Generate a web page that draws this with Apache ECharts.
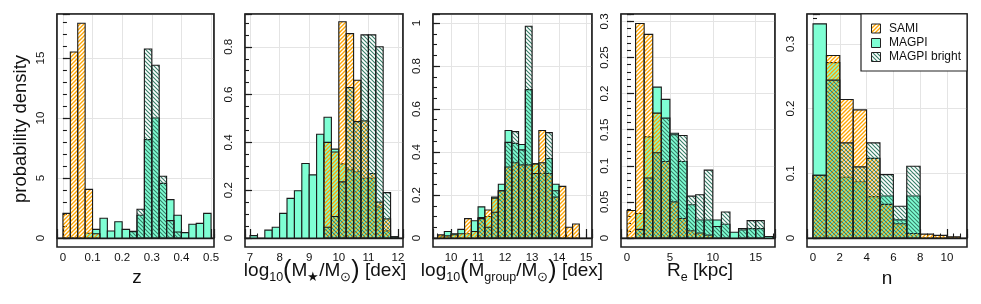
<!DOCTYPE html>
<html><head><meta charset="utf-8">
<script src="https://cdn.jsdelivr.net/npm/echarts@6/dist/echarts.min.js"></script>
<style>html,body{margin:0;padding:0;background:#fff}#c{width:981px;height:304px}</style>
</head><body><div id="c"></div>
<script>
// ---------------- DATA ----------------
// Panel 1: redshift z (bin width 0.025)
const zBinWidth = 0.025;
const zSamiLeft = [0, 0.025, 0.05, 0.075, 0.1];
const zSamiDensity = [2.05, 15.5, 17.9, 4.05, 0.35];
const zMagpiLeft = [0.075, 0.1, 0.125, 0.15, 0.175, 0.2, 0.225, 0.25, 0.275, 0.3, 0.325, 0.35, 0.375, 0.4, 0.425, 0.45, 0.475];
const zMagpiDensity = [0.4, 0.72, 1.64, 0.58, 1.36, 0.72, 0.53, 1.9, 8.2, 10.0, 4.55, 3.2, 1.9, 0.45, 1.15, 1.22, 2.05];
const zBrightLeft = [0.225, 0.25, 0.275, 0.3, 0.325, 0.35, 0.375];
const zBrightDensity = [0.55, 2.4, 15.75, 14.4, 5.15, 1.45, 0.5];
const zXTicks = [0, 0.1, 0.2, 0.3, 0.4, 0.5];
const zYTicks = [0, 5, 10, 15];

// Panel 2: log10 stellar mass (bin width 0.25)
const msBinWidth = 0.25;
const msSamiLeft = [9.5, 9.75, 10, 10.25, 10.5, 10.75, 11, 11.25, 11.5];
const msSamiDensity = [0.40, 0.36, 0.905, 0.855, 0.66, 0.49, 0.27, 0.15, 0.08];
const msMagpiLeft = [7, 7.5, 7.75, 8, 8.25, 8.5, 8.75, 9, 9.25, 9.5, 9.75, 10, 10.25, 10.5, 10.75, 11, 11.25, 11.5, 11.75];
const msMagpiDensity = [0.01, 0.033, 0.045, 0.103, 0.166, 0.198, 0.312, 0.264, 0.434, 0.505, 0.372, 0.31, 0.285, 0.277, 0.25, 0.25, 0.13, 0.03, 0.005];
const msBrightLeft = [9.5, 9.75, 10, 10.25, 10.5, 10.75, 11, 11.25, 11.5, 11.75];
const msBrightDensity = [0.045, 0.09, 0.235, 0.63, 0.487, 0.85, 0.85, 0.80, 0.19, 0.005];
const msXTicks = [7, 8, 9, 10, 11, 12];
const msYTicks = [0, 0.2, 0.4, 0.6, 0.8];

// Panel 3: log10 group mass (bin width 0.25)
const mgBinWidth = 0.25;
const mgSamiLeft = [9.5, 9.75, 10, 10.25, 10.5, 10.75, 11, 11.25, 11.5, 11.75, 12, 12.25, 12.5, 12.75, 13, 13.25, 13.5, 13.75, 14, 14.25, 14.5];
const mgSamiDensity = [0.015, 0.01, 0.015, 0.02, 0.09, 0.03, 0.095, 0.13, 0.185, 0.22, 0.33, 0.35, 0.34, 0.34, 0.345, 0.50, 0.30, 0.19, 0.24, 0.05, 0.065];
const mgMagpiLeft = [9.5, 9.75, 10, 10.25, 10.5, 10.75, 11, 11.25, 11.5, 11.75, 12, 12.25, 12.5, 12.75, 13, 13.25, 13.5, 13.75];
const mgMagpiDensity = [0.01, 0.03, 0.02, 0.04, 0.02, 0.08, 0.145, 0.10, 0.19, 0.25, 0.50, 0.44, 0.435, 0.69, 0.345, 0.30, 0.37, 0.25];
const mgBrightLeft = [11, 11.25, 11.5, 11.75, 12, 12.25, 12.5, 12.75, 13, 13.25, 13.5, 13.75];
const mgBrightDensity = [0.09, 0.05, 0.12, 0.22, 0.445, 0.495, 0.41, 0.985, 0.30, 0.35, 0.49, 0.22];
const mgXTicks = [10, 11, 12, 13, 14, 15];
const mgYTicks = [0, 0.2, 0.4, 0.6, 0.8, 1];

// Panel 4: effective radius Re [kpc] (bin width 1)
const reBinWidth = 1;
const reSamiLeft = [0, 1, 2, 3, 4, 5, 6, 7, 8, 9];
const reSamiDensity = [0.038, 0.297, 0.282, 0.173, 0.106, 0.05, 0.027, 0.01, 0.007, 0.004];
const reMagpiLeft = [1, 2, 3, 4, 5, 6, 7, 8, 9, 10, 11, 12, 13, 14, 15, 16];
const reMagpiDensity = [0.034, 0.14, 0.209, 0.192, 0.145, 0.106, 0.046, 0.025, 0.025, 0.025, 0.019, 0.008, 0.011, 0.013, 0.013, 0.002];
const reBrightLeft = [1, 2, 3, 4, 5, 6, 7, 8, 9, 10, 11, 13, 14, 15];
const reBrightDensity = [0.012, 0.083, 0.118, 0.166, 0.143, 0.142, 0.058, 0.06, 0.094, 0.016, 0.036, 0.013, 0.024, 0.024];
const reXTicks = [0, 5, 10, 15];
const reYTicks = [0, 0.05, 0.1, 0.15, 0.2, 0.25, 0.3];

// Panel 5: Sersic index n (bin width 1)
const nBinWidth = 1;
const nSamiLeft = [0, 1, 2, 3, 4, 5, 6, 7, 8, 9, 10];
const nSamiDensity = [0.097, 0.282, 0.214, 0.198, 0.123, 0.052, 0.022, 0.007, 0.006, 0.004, 0.002];
const nMagpiLeft = [0, 1, 2, 3, 4, 5, 6, 7];
const nMagpiDensity = [0.331, 0.271, 0.094, 0.087, 0.064, 0.065, 0.028, 0.065];
const nBrightLeft = [0, 1, 2, 3, 4, 5, 6, 7];
const nBrightDensity = [0.097, 0.244, 0.147, 0.11, 0.147, 0.098, 0.049, 0.111];
const nXTicks = [0, 2, 4, 6, 8, 10];
const nYTicks = [0, 0.1, 0.2, 0.3];

const legendNames = ['SAMI', 'MAGPI', 'MAGPI bright'];

// ---------------- STYLE / LAYOUT ----------------
const F = "'Liberation Sans', Arial, Helvetica, sans-serif";
const C_SAMI = '#FFA500', C_MAGPI = '#7FFFD4', C_BRIGHT = '#367F68', C_EDGE = '#1a1a1a', C_GRID = '#e4e4e4';
const TOP = 14, ZERO = 238, BOTTOM = 247;

function hatch(color, dir, lw) {
  const s = 4, c = document.createElement('canvas');
  c.width = s; c.height = s;
  const g = c.getContext('2d');
  g.strokeStyle = color; g.lineWidth = lw;
  g.beginPath();
  if (dir === '/') {
    g.moveTo(-1, s + 1); g.lineTo(s + 1, -1);
    g.moveTo(-1, 1); g.lineTo(1, -1);
    g.moveTo(s - 1, s + 1); g.lineTo(s + 1, s - 1);
  } else {
    g.moveTo(-1, -1); g.lineTo(s + 1, s + 1);
    g.moveTo(-1, s - 1); g.lineTo(1, s + 1);
    g.moveTo(s - 1, -1); g.lineTo(s + 1, 1);
  }
  g.stroke();
  return { image: c, repeat: 'repeat' };
}
const FILL_SAMI = hatch(C_SAMI, '/', 1.35);
const FILL_BRIGHT = hatch(C_BRIGHT, '\\', 1.1);

const panels = [
  { left: 57, right: 214, xr: [-0.02, 0.51], xMinor: 0.025, xTicks: zXTicks, yMax: 224 / 12, yMinor: 1, yTicks: zYTicks,
    w: zBinWidth, sets: [[zMagpiLeft, zMagpiDensity], [zSamiLeft, zSamiDensity], [zBrightLeft, zBrightDensity]] },
  { left: 245, right: 403, xr: [6.83, 12.17], xMinor: 0.25, xTicks: msXTicks, yMax: 224 / 239, yMinor: 0.05, yTicks: msYTicks,
    w: msBinWidth, sets: [[msMagpiLeft, msMagpiDensity], [msSamiLeft, msSamiDensity], [msBrightLeft, msBrightDensity]] },
  { left: 433, right: 592, xr: [9.33, 15.22], xMinor: 0.25, xTicks: mgXTicks, yMax: 224 / 215, yMinor: 0.05, yTicks: mgYTicks,
    w: mgBinWidth, sets: [[mgMagpiLeft, mgMagpiDensity], [mgSamiLeft, mgSamiDensity], [mgBrightLeft, mgBrightDensity]] },
  { left: 621, right: 775, xr: [-0.7, 17.25], xMinor: 1, xTicks: reXTicks, yMax: 224 / 722, yMinor: 0.01, yTicks: reYTicks,
    w: reBinWidth, sets: [[reMagpiLeft, reMagpiDensity], [reSamiLeft, reSamiDensity], [reBrightLeft, reBrightDensity]] },
  { left: 807, right: 967, xr: [-0.45, 11.5], xMinor: 0.5, xTicks: nXTicks, yMax: 224 / 647, yMinor: 0.02, yTicks: nYTicks,
    w: nBinWidth, sets: [[nMagpiLeft, nMagpiDensity], [nSamiLeft, nSamiDensity], [nBrightLeft, nBrightDensity]] }
];
const fills = [C_MAGPI, FILL_SAMI, FILL_BRIGHT];

function labelFmt(list) {
  return v => {
    const hit = list.find(t => Math.abs(t - v) < 1e-7);
    return hit === undefined ? '' : String(hit);
  };
}

const grid = [], xAxis = [], yAxis = [], series = [], graphic = [];
panels.forEach((p, i) => {
  grid.push({ left: p.left, top: TOP, width: p.right - p.left, height: ZERO - TOP,
    show: true, borderColor: C_EDGE, borderWidth: 1.2, backgroundColor: 'transparent' });
  const xStep = p.xTicks[1] - p.xTicks[0];
  const yStep = p.yTicks[1] - p.yTicks[0];
  xAxis.push({ gridIndex: i, type: 'value', min: p.xr[0], max: p.xr[1], minInterval: xStep, maxInterval: xStep,
    position: 'bottom', offset: BOTTOM - ZERO,
    axisLine: { show: true, lineStyle: { color: C_EDGE, width: 1.4 } },
    axisTick: { show: true, inside: true, length: 9, lineStyle: { color: C_EDGE, width: 1.2 } },
    axisLabel: { show: true, margin: 5, fontSize: 11.5, color: '#111', fontFamily: F, formatter: labelFmt(p.xTicks), hideOverlap: false },
    splitLine: { show: true, lineStyle: { color: C_GRID, width: 1 } } });
  xAxis.push({ gridIndex: i, type: 'value', min: p.xr[0], max: p.xr[1], minInterval: p.xMinor, maxInterval: p.xMinor,
    position: 'bottom', offset: BOTTOM - ZERO,
    axisLine: { show: false }, axisLabel: { show: false }, splitLine: { show: false },
    axisTick: { show: true, inside: true, length: 4.5, lineStyle: { color: C_EDGE, width: 1.1 } } });
  yAxis.push({ gridIndex: i, type: 'value', min: 0, max: p.yMax, minInterval: yStep, maxInterval: yStep,
    position: 'left',
    axisLine: { show: false },
    axisTick: { show: true, inside: true, length: 7, lineStyle: { color: C_EDGE, width: 1.2 } },
    axisLabel: { show: true, rotate: 90, margin: 10, fontSize: 11.5, color: '#111', fontFamily: F, formatter: labelFmt(p.yTicks), hideOverlap: false },
    splitLine: { show: true, lineStyle: { color: C_GRID, width: 1 } } });
  yAxis.push({ gridIndex: i, type: 'value', min: 0, max: p.yMax, minInterval: p.yMinor, maxInterval: p.yMinor,
    position: 'left',
    axisLine: { show: false }, axisLabel: { show: false }, splitLine: { show: false },
    axisTick: { show: true, inside: true, length: 4, lineStyle: { color: C_EDGE, width: 1.1 } } });

  p.sets.forEach((s, k) => {
    const fill = fills[k];
    series.push({
      type: 'custom', name: legendNames[[1, 0, 2][k]], xAxisIndex: 2 * i, yAxisIndex: 2 * i,
      silent: true, z: 2 + k,
      data: s[0].map((l, j) => [l, l + p.w, s[1][j]]),
      encode: { x: [0, 1], y: 2 },
      renderItem: (params, api) => {
        const a = api.coord([api.value(0), api.value(2)]);
        const b = api.coord([api.value(1), 0]);
        return { type: 'rect', shape: { x: a[0], y: a[1], width: b[0] - a[0], height: b[1] - a[1] },
          style: { fill: fill, stroke: C_EDGE, lineWidth: 1.1 } };
      }
    });
  });

  graphic.push({ type: 'rect', z: 100, silent: true,
    shape: { x: p.left, y: TOP, width: p.right - p.left, height: BOTTOM - TOP },
    style: { fill: 'none', stroke: '#222', lineWidth: 1.6 } });
});

// axis titles
const big = { fontSize: 19, lineHeight: 26, fontFamily: F, color: '#111', verticalAlign: 'middle' };
const par = { fontSize: 25, lineHeight: 26, fontFamily: F, color: '#111', verticalAlign: 'middle' };
const sub = { fontSize: 12.5, lineHeight: 12, fontFamily: F, color: '#111', verticalAlign: 'bottom' };
function title(x, y, text) {
  return { type: 'text', z: 100, silent: true, x: x, y: y,
    style: { text: text, rich: { b: big, p: par, s: sub }, align: 'center', verticalAlign: 'middle',
      textAlign: 'center', textVerticalAlign: 'middle', font: '19px ' + F, fill: '#111' } };
}
graphic.push(title(137, 278, '{b|z}'));
graphic.push(title(325, 271, '{b|log}{s|10}{p|(}{b|M}{s|★}{b|/M}{s|⊙}{p|)}{b| [dex]}'));
graphic.push(title(512, 271, '{b|log}{s|10}{p|(}{b|M}{s|group}{b|/M}{s|⊙}{p|)}{b| [dex]}'));
graphic.push(title(700, 271, '{b|R}{s|e}{b| [kpc]}'));
graphic.push(title(887, 279, '{b|n}'));
graphic.push({ type: 'text', z: 100, silent: true, x: 21, y: 129, rotation: Math.PI / 2,
  style: { text: 'probability density', font: '18.5px ' + F, fill: '#111', align: 'center', verticalAlign: 'middle',
    textAlign: 'center', textVerticalAlign: 'middle' } });

// legend
graphic.push({ type: 'rect', z: 110, silent: true, shape: { x: 861, y: TOP, width: 106, height: 57 },
  style: { fill: '#fff', stroke: '#222', lineWidth: 1.2 } });
const legFills = [FILL_SAMI, C_MAGPI, FILL_BRIGHT];
const legY = [28.5, 43, 57];
legendNames.forEach((nm, k) => {
  graphic.push({ type: 'rect', z: 111, silent: true, shape: { x: 871.5, y: legY[k] - 4.5, width: 9, height: 9 },
    style: { fill: legFills[k], stroke: '#222', lineWidth: 1 } });
  graphic.push({ type: 'text', z: 111, silent: true, x: 889, y: legY[k],
    style: { text: nm, font: '12px ' + F, fill: '#111', align: 'left', verticalAlign: 'middle',
      textAlign: 'left', textVerticalAlign: 'middle' } });
});

const chart = echarts.init(document.getElementById('c'), null, { renderer: 'canvas' });
chart.setOption({ animation: false, backgroundColor: '#fff', grid, xAxis, yAxis, series, graphic });
</script></body></html>
